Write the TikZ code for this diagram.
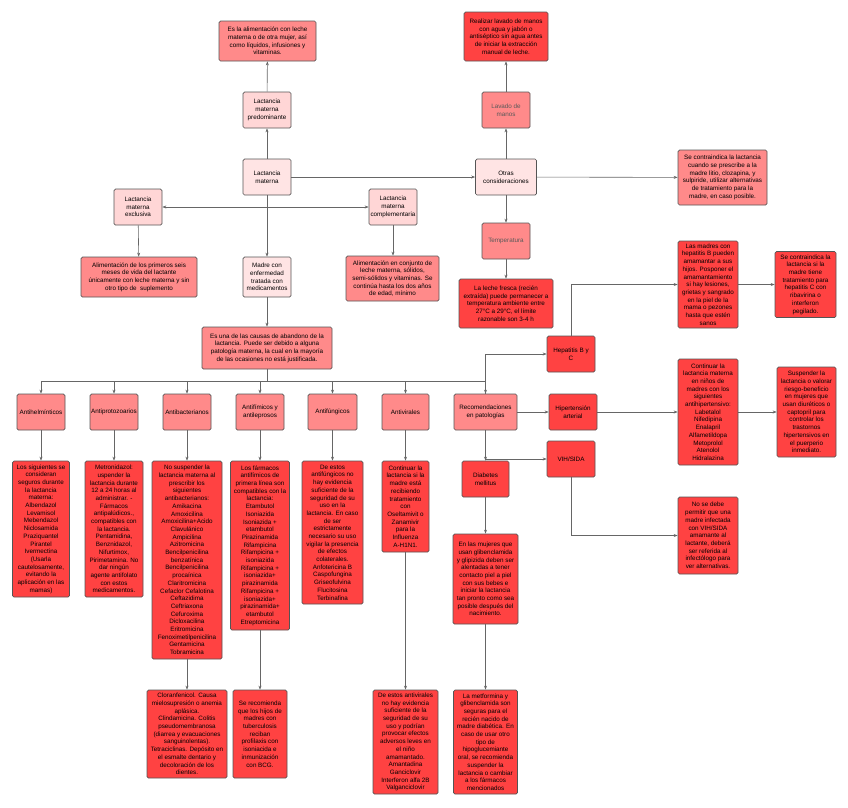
\documentclass[tikz,border=0pt]{standalone}
\usepackage{fontspec}
\setmainfont{Liberation Sans}
\usepackage{xcolor}
\usetikzlibrary{arrows.meta}
\definecolor{paleRose}{HTML}{FFE4E4}
\definecolor{softRose}{HTML}{FFD6D6}
\definecolor{midRose}{HTML}{FF8A8A}
\definecolor{hotRed}{HTML}{FF4242}
\definecolor{edgeGray}{HTML}{555555}
\definecolor{linkGray}{HTML}{666666}

\begin{document}
\begin{tikzpicture}[x=1pt,y=-1pt,
  >={Stealth[length=4pt,width=3pt]},
  box/.style={draw=edgeGray,rounded corners=1.5pt,line width=0.7pt,align=center,inner sep=1pt,text=black,font=\fontsize{6.3}{7.7}\selectfont},
  pale/.style={box,fill=paleRose},
  soft/.style={box,fill=softRose},
  mid/.style={box,fill=midRose},
  hot/.style={box,fill=hotRed},
  wh/.style 2 args={minimum width=#1pt,minimum height=#2pt},
  link/.style={draw=linkGray,line width=0.6pt}]
  \useasboundingbox (0,0) rectangle (848,807);

  % trunk
  \node[pale,wh={48}{36}] (lm) at (267,177) {Lactancia\\materna};
  \node[soft,wh={48}{36}] (pred) at (267,110) {Lactancia\\materna\\predominante};
  \node[mid,wh={97}{40}] (alim) at (267.5,41) {Es la alimentación con leche\\materna o de otra mujer, así\\como líquidos, infusiones y\\vitaminas.};
  \node[soft,wh={48}{36}] (excl) at (138,207) {Lactancia\\materna\\exclusiva};
  \node[soft,wh={48}{36}] (compl) at (393,207) {Lactancia\\materna\\complementaria};
  \node[mid,wh={116}{40}] (seis) at (139,277) {Alimentación de los primeros seis\\meses de vida del lactante\\únicamente con leche materna y sin\\otro tipo de\ \ suplemento};
  \node[mid,wh={93}{45}] (conj) at (392.5,278.5) {Alimentación en conjunto de\\leche materna, sólidos,\\semi-sólidos y vitaminas. Se\\continúa hasta los dos años\\de edad, mínimo};
  \node[pale,wh={48}{40}] (madre) at (267,277) {Madre con\\enfermedad\\tratada con\\medicamentos};
  \node[mid,wh={130}{42}] (causas) at (267,348) {Es una de las causas de abandono de la\\lactancia. Puede ser debido a alguna\\patología materna, la cual en la mayoría\\de las ocasiones no está justificada.};

  % otras consideraciones
  \node[pale,wh={61}{36}] (otras) at (506,177) {Otras\\consideraciones};
  \node[mid,wh={48}{36},text=black!65] (lavado) at (506,110) {Lavado de\\manos};
  \node[hot,wh={84}{49}] (realizar) at (506,36.5) {Realizar lavado de manos\\con agua y jabón o\\antiséptico sin agua antes\\de iniciar la extracción\\manual de leche.};
  \node[mid,wh={89}{55}] (litio) at (722.5,177.5) {Se contraindica la lactancia\\cuando se prescribe a la\\madre litio, clozapina, y\\sulpiride, utilizar alternativas\\de tratamiento para la\\madre, en caso posible.};
  \node[mid,wh={48}{36},text=black!65] (temp) at (506,241) {Temperatura};
  \node[hot,wh={94}{49}] (leche) at (506,303.5) {La leche fresca (recién\\extraída) puede permanecer a\\temperatura ambiente entre\\27°C a 29°C, el límite\\razonable son 3-4 h};

  % grupos de farmacos
  \node[mid,wh={48}{36}] (helm) at (41,412) {Antihelmínticos};
  \node[mid,wh={48}{36}] (proto) at (114,412) {Antiprotozoarios};
  \node[mid,wh={48}{36}] (bact) at (187,412) {Antibacterianos};
  \node[mid,wh={48}{36}] (fim) at (260,412) {Antifímicos y\\antileprosos};
  \node[mid,wh={49}{36}] (fung) at (332.5,412) {Antifúngicos};
  \node[mid,wh={47}{36}] (vir) at (405.5,412) {Antivirales};
  \node[mid,wh={63}{36}] (recom) at (485.5,412) {Recomendaciones\\en patologías};

  \node[hot,wh={57}{136}] (helmD) at (41,529) {Los siguientes se\\consideran\\seguros durante\\la lactancia\\materna:\\Albendazol\\Levamisol\\Mebendazol\\Niclosamida\\Praziquantel\\Pirantel\\Ivermectina\\(Usarla\\cautelosamente,\\evitando la\\aplicación en las\\mamas)};
  \node[hot,wh={58}{136}] (protoD) at (114,529) {Metronidazol:\\uspender la\\lactancia durante\\12 a 24 horas al\\administrar. -\\Fármacos\\antipalúdicos.,\\compatibles con\\la lactancia.\\Pentamidina,\\Benznidazol,\\Nifurtimox,\\Pirimetamina. No\\dar ningún\\agente antifolato\\con estos\\medicamentos.};
  \node[hot,wh={70}{198}] (bactD) at (187,560) {No suspender la\\lactancia materna al\\prescribir los\\siguientes\\antibacterianos:\\Amikacina\\Amoxicilina\\Amoxicilina+Acido\\Clavulánico\\Ampicilina\\Azitromicina\\Bencilpenicilina\\benzatínica\\Bencilpenicilina\\procaínica\\Claritromicina\\Cefaclor Cefalotina\\Ceftazidima\\Ceftriaxona\\Cefuroxima\\Dicloxacilina\\Eritromicina\\Fenoximetilpenicilina\\Gentamicina\\Tobramicina};
  \node[hot,wh={59}{169}] (fimD) at (260,545.5) {Los fármacos\\antifímicos de\\primera línea son\\compatibles con la\\lactancia:\\Etambutol\\Isoniazida\\Isoniazida +\\etambutol\\Pirazinamida\\Rifampicina\\Rifampicina +\\isoniazida\\Rifampicina +\\isoniazida+\\pirazinamida\\Rifampicina +\\isoniazida+\\pirazinamida+\\etambutol\\Etreptomicina};
  \node[hot,wh={61}{143}] (fungD) at (332.5,532.5) {De estos\\antifúngicos no\\hay evidencia\\suficiente de la\\seguridad de su\\uso en la\\lactancia. En caso\\de ser\\estrictamente\\necesario su uso\\vigilar la presencia\\de efectos\\colaterales.\\Anfotericina B\\Caspofungina\\Griseofulvina\\Flucitosina\\Terbinafina};
  \node[hot,wh={47}{91}] (virD) at (405.5,506.5) {Continuar la\\lactancia si la\\madre está\\recibiendo\\tratamiento\\con\\Oseltamivit o\\Zanamivir\\para la\\Influenza\\A-H1N1.};

  \node[hot,wh={80}{88}] (clor) at (187,734) {Cloranfenicol. Causa\\mielosupresión o anemia\\aplásica.\\Clindamicina. Colitis\\pseudomembranosa\\(diarrea y evacuaciones\\sanguinolentas).\\Tetraciclinas. Depósito en\\el esmalte dentario y\\decoloración de los\\dientes.};
  \node[hot,wh={54}{88}] (bcg) at (260,734) {Se recomienda\\que los hijos de\\madres con\\tuberculosis\\reciban\\profilaxis con\\isoniacida e\\inmunización\\con BCG.};
  \node[hot,wh={65}{104}] (virB) at (405.5,742) {De estos antivirales\\no hay evidencia\\suficiente de la\\seguridad de su\\uso y podrían\\provocar efectos\\adversos leves en\\el niño\\amamantado.\\Amantadina\\Ganciclovir\\Interferon alfa 2B\\Valganciclovir};

  % patologias
  \node[hot,wh={47}{36}] (diab) at (485.5,479) {Diabetes\\mellitus};
  \node[hot,wh={65}{90}] (diabD) at (485.5,579) {En las mujeres que\\usan glibenclamida\\y glipizida deben ser\\alentadas a tener\\contacto piel a piel\\con sus bebes e\\iniciar la lactancia\\tan pronto como sea\\posible después del\\nacimiento.};
  \node[hot,wh={64}{104}] (metf) at (485.5,742) {La metformina y\\glibenclamida son\\seguras para el\\recién nacido de\\madre diabética. En\\caso de usar otro\\tipo de\\hipoglucemiante\\oral, se recomienda\\suspender la\\lactancia o cambiar\\a los fármacos\\mencionados};
  \node[hot,wh={48}{36}] (hep) at (571,354) {Hepatitis B y\\C};
  \node[hot,wh={60}{87}] (hepB) at (708,284.5) {Las madres con\\hepatitis B pueden\\amamantar a sus\\hijos. Posponer el\\amamantamiento\\si hay lesiones,\\grietas y sangrado\\en la piel de la\\mama o pezones\\hasta que estén\\sanos};
  \node[hot,wh={61}{66}] (hepC) at (805.5,284.5) {Se contraindica la\\lactancia si la\\madre tiene\\tratamiento para\\hepatitis C con\\ribavirina o\\interferon\\pegilado.};
  \node[hot,wh={48}{36}] (hta) at (573,412) {Hipertensión\\arterial};
  \node[hot,wh={60}{106}] (htaD) at (708,412) {Continuar la\\lactancia materna\\en niños de\\madres con los\\siguientes\\antihipertensivo:\\Labetalol\\Nifedipina\\Enalapril\\Alfametildopa\\Metoprolol\\Atenolol\\Hidralazina};
  \node[hot,wh={59}{90}] (htaS) at (806.5,412) {Suspender la\\lactancia o valorar\\riesgo-beneficio\\en mujeres que\\usan diuréticos o\\captopril para\\controlar los\\trastornos\\hipertensivos en\\el puerperio\\inmediato.};
  \node[hot,wh={48}{36}] (vih) at (571,459) {VIH/SIDA};
  \node[hot,wh={60}{77}] (vihD) at (708,535.5) {No se debe\\permitir que una\\madre infectada\\con VIH/SIDA\\amamante al\\lactante, deberá\\ser referida al\\infectólogo para\\ver alternativas.};

  \coordinate (bus) at (267,381);

  % conectores
  \draw[link,->] (lm) -- (pred);
  \draw[link,->] (pred) -- (alim);
  \draw[link,->] (lm) -- (otras);
  \draw[link,->] (lm) -- (madre);
  \draw[link,<->] (excl) -- (compl);
  \draw[link,->] (excl) -- (seis);
  \draw[link,->] (compl) -- (compl |- conj.north);
  \draw[link,->] (madre) -- (causas);
  \draw[link,->] (otras) -- (lavado);
  \draw[link,->] (lavado) -- (lavado |- realizar.south);
  \draw[link,->] (otras) -- (litio);
  \draw[link,->] (otras) -- (temp);
  \draw[link,->] (temp) -- (leche);
  \draw[link] (causas) -- (bus);
  \foreach \g in {helm,proto,bact,fim,fung,vir,recom}
    \draw[link,->] (bus) -| (\g.north);
  \foreach \g/\d in {helm/helmD,proto/protoD,bact/bactD,fim/fimD,fung/fungD,vir/virD,diab/diabD}
    \draw[link,->] (\g) -- (\d);
  \draw[link,->] (bactD) -- (clor);
  \draw[link,->] (fimD) -- (bcg);
  \draw[link,->] (virD) -- (virB);
  \draw[link,->] (diabD) -- (metf);
  \draw[link,->] (recom.north) |- (hep.west);
  \draw[link,->] (recom) -- (hta);
  \draw[link,->] (recom) -- (diab);
  \draw[link,->] (recom.south |- vih.west) -- (vih.west);
  \draw[link,->] (hep.north) |- (hepB.west);
  \draw[link,->] (hepB) -- (hepC);
  \draw[link,->] (hta) -- (htaD);
  \draw[link,->] (htaD) -- (htaS);
  \draw[link,->] (vih.south) |- (vihD.west);
\end{tikzpicture}
\end{document}
